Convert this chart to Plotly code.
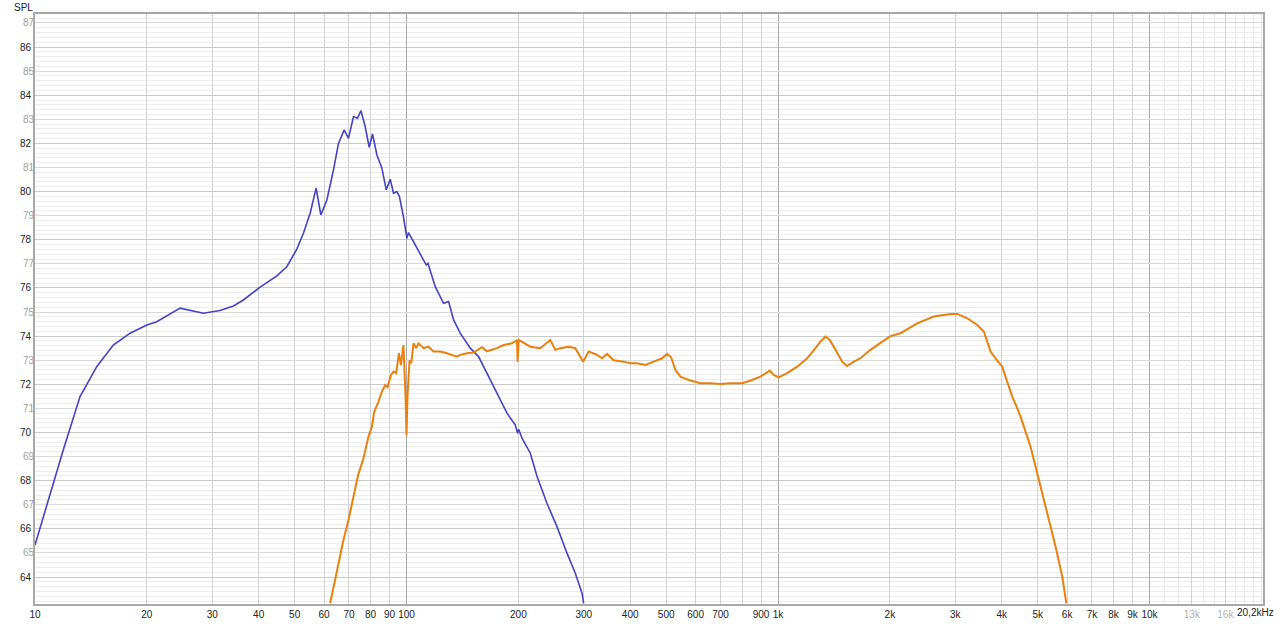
import plotly.graph_objects as go

# ---- data (Hz, dB SPL) ----
blue_f = [10.0, 10.97, 11.92, 13.22, 14.66, 16.25, 18.03, 20.0, 21.27, 24.58, 28.39, 31.48,
          34.2, 36.39, 40.36, 44.77, 47.62, 50.67, 52.79, 55.03, 57.12, 58.8, 61.04, 63.6,
          65.6, 67.96, 69.8, 71.98, 73.8, 75.4, 77.4, 79.35, 80.99, 83.24, 85.85, 88.18,
          90.4, 92.26, 94.2, 95.7, 98.1, 100.25, 101.25, 104.4, 110.0, 113.0, 114.2, 117.0,
          119.5, 125.8, 129.8, 133.9, 139.5, 148.5, 156.3, 164.6, 175.2, 186.4, 196.3, 199.1,
          200.4, 204.6, 215.4, 224.6, 238.8, 254.1, 270.4, 284.7, 296.8, 299.8]
blue_db = [65.33, 67.41, 69.28, 71.49, 72.73, 73.63, 74.12, 74.46, 74.6, 75.16, 74.95, 75.06,
           75.25, 75.5, 76.03, 76.5, 76.88, 77.61, 78.27, 79.1, 80.14, 79.03, 79.65, 80.9,
           82.0, 82.56, 82.21, 83.11, 83.04, 83.36, 82.7, 81.84, 82.39, 81.52, 80.97, 80.07,
           80.51, 79.93, 80.0, 79.79, 78.96, 78.06, 78.3, 77.92, 77.3, 76.95, 77.02, 76.47,
           76.05, 75.36, 75.43, 74.67, 74.12, 73.5, 73.15, 72.46, 71.63, 70.8, 70.31, 69.97,
           70.13, 69.76, 69.14, 68.17, 67.06, 66.09, 64.99, 64.16, 63.33, 62.91]

orange_f = [62.3, 63.6, 65.6, 67.65, 69.8, 71.9, 74.1, 76.6, 79.0, 80.7, 81.85, 84.07, 85.85,
            87.6, 88.9, 90.8, 92.26, 93.8, 95.4, 96.6, 98.1, 99.4, 100.0, 100.6, 101.9, 103.0,
            104.4, 106.2, 107.7, 111.1, 114.6, 118.2, 123.2, 128.5, 136.7, 139.5, 145.5, 151.5,
            159.6, 164.6, 175.2, 182.5, 192.2, 198.3, 199.1, 200.5, 215.4, 229.1, 243.8, 251.5,
            259.4, 273.1, 284.7, 298.7, 309.3, 325.8, 336.0, 346.6, 361.1, 384.1, 400.4, 417.4,
            439.5, 462.7, 487.4, 502.8, 515.4, 529.3, 546.0, 574.9, 618.0, 657.6, 699.7, 744.4,
            800.6, 851.8, 896.9, 949.8, 973.6, 1004, 1058, 1126, 1198, 1261, 1301, 1342, 1378,
            1428, 1488, 1535, 1599, 1667, 1773, 1887, 2008, 2136, 2369, 2626, 2913, 3036, 3231,
            3438, 3581, 3671, 3733, 3849, 4013, 4140, 4271, 4405, 4496, 4784, 5036, 5305, 5587,
            5825, 5970]
orange_db = [62.91, 63.6, 64.57, 65.54, 66.37, 67.32, 68.24, 68.93, 69.83, 70.24, 70.86, 71.28,
             71.7, 71.97, 71.88, 72.39, 72.53, 72.46, 73.29, 72.8, 73.63, 71.49, 69.9, 71.49,
             73.0, 72.87, 73.7, 73.5, 73.7, 73.5, 73.56, 73.36, 73.36, 73.29, 73.15, 73.22,
             73.29, 73.32, 73.54, 73.37, 73.5, 73.63, 73.7, 73.84, 72.94, 73.84, 73.56, 73.5,
             73.84, 73.43, 73.5, 73.56, 73.5, 72.94, 73.36, 73.22, 73.08, 73.26, 73.0, 72.94,
             72.87, 72.87, 72.8, 72.94, 73.08, 73.26, 73.12, 72.6, 72.32, 72.18, 72.04, 72.04,
             72.01, 72.04, 72.04, 72.18, 72.32, 72.57, 72.39, 72.29, 72.46, 72.73, 73.08, 73.5,
             73.77, 73.98, 73.84, 73.43, 72.94, 72.76, 72.94, 73.08, 73.43, 73.72, 74.0, 74.12,
             74.53, 74.81, 74.92, 74.92, 74.74, 74.46, 74.19, 73.7, 73.36, 73.08, 72.73, 72.1,
             71.49, 71.0, 70.66, 69.41, 68.03, 66.65, 65.26, 64.0, 62.91]

# ---- axis ticks ----
x_tickvals = [10, 20, 30, 40, 50, 60, 70, 80, 90, 100, 200, 300, 400, 500, 600, 700, 800, 900,
              1000, 2000, 3000, 4000, 5000, 6000, 7000, 8000, 9000, 10000, 13000, 16000]
x_ticktext = ['10', '20', '30', '40', '50', '60', '70', '80', '90', '100', '200', '300', '400',
              '500', '600', '700', '', '900', '1k', '2k', '3k', '4k', '5k', '6k', '7k', '8k',
              '9k', '10k', '<span style="color:#b0b0b0">13k</span>',
              '<span style="color:#b0b0b0">16k</span>']
x_end_label = "20,2kHz"
x_high_minor = [11000, 12000, 13000, 14000, 15000, 16000, 17000, 18000, 19000, 20000]
x_decades = [100, 1000, 10000]
y_even = [64, 66, 68, 70, 72, 74, 76, 78, 80, 82, 84, 86]
y_odd = [65, 67, 69, 71, 73, 75, 77, 79, 81, 83, 85, 87]

x_range = [1.0, 4.3054]
y_range = [62.88, 87.37]

FONT = "Liberation Sans, Arial, sans-serif"

fig = go.Figure()
fig.add_trace(go.Scatter(x=blue_f, y=blue_db, mode="lines",
                         line=dict(color="#4343c4", width=1.6),
                         xaxis="x", yaxis="y", hoverinfo="skip", showlegend=False))
fig.add_trace(go.Scatter(x=orange_f, y=orange_db, mode="lines",
                         line=dict(color="#e8810f", width=2),
                         xaxis="x2", yaxis="y2", hoverinfo="skip", showlegend=False))

fig.update_layout(
    width=1280, height=624,
    margin=dict(l=35, r=17, t=14, b=20, autoexpand=False),
    paper_bgcolor="white", plot_bgcolor="white",
    hovermode=False, showlegend=False,
    font=dict(family=FONT, size=10, color="#222222"),
    xaxis=dict(type="log", range=x_range, tickmode="array", tickvals=x_tickvals,
               ticktext=x_ticktext, showgrid=True, gridcolor="#d2d2d2", gridwidth=1,
               ticks="", zeroline=False, showline=True, linecolor="#a8a8a8",
               linewidth=2, mirror=True, automargin=False,
               tickfont=dict(size=10, color="#222222"),
               minor=dict(tickmode="array", tickvals=x_high_minor, showgrid=True,
                          gridcolor="#e6e6e6", ticks="")),
    xaxis2=dict(type="log", range=x_range, overlaying="x", anchor="y2", tickmode="array",
                tickvals=x_decades, showticklabels=False, showgrid=True, automargin=False,
                gridcolor="#a9a9a9", gridwidth=1, ticks="", zeroline=False, showline=False),
    yaxis=dict(range=y_range, tickmode="array", tickvals=y_even, showgrid=True,
               gridcolor="#c9c9c9", ticks="", zeroline=False, showline=True,
               linecolor="#a8a8a8", linewidth=2, mirror=True, automargin=False,
               tickfont=dict(size=10, color="#222222"),
               minor=dict(dtick=0.2, tick0=0, showgrid=True, gridcolor="#ededed", ticks="")),
    yaxis2=dict(range=y_range, overlaying="y", anchor="x2", side="left", tickmode="array",
                tickvals=y_odd, showgrid=True, gridcolor="#dadada", ticks="", automargin=False,
                zeroline=False, showline=False, tickfont=dict(size=10, color="#a0a0a0")),
    annotations=[
        dict(text="SPL", xref="paper", yref="paper", x=-0.0185, y=1.0,
             xanchor="left", yanchor="bottom", showarrow=False, yshift=-1,
             font=dict(family=FONT, size=10, color="#222222")),
        dict(text=x_end_label, xref="paper", yref="paper", x=1.0, y=0.0,
             xanchor="right", yanchor="top", showarrow=False, xshift=13, yshift=-1,
             font=dict(family=FONT, size=10, color="#222222")),
    ],
)

fig.write_html(
    "out.html",
    config={"displayModeBar": False},
    post_script="document.body.style.margin='0';document.body.style.overflow='hidden';",
)
